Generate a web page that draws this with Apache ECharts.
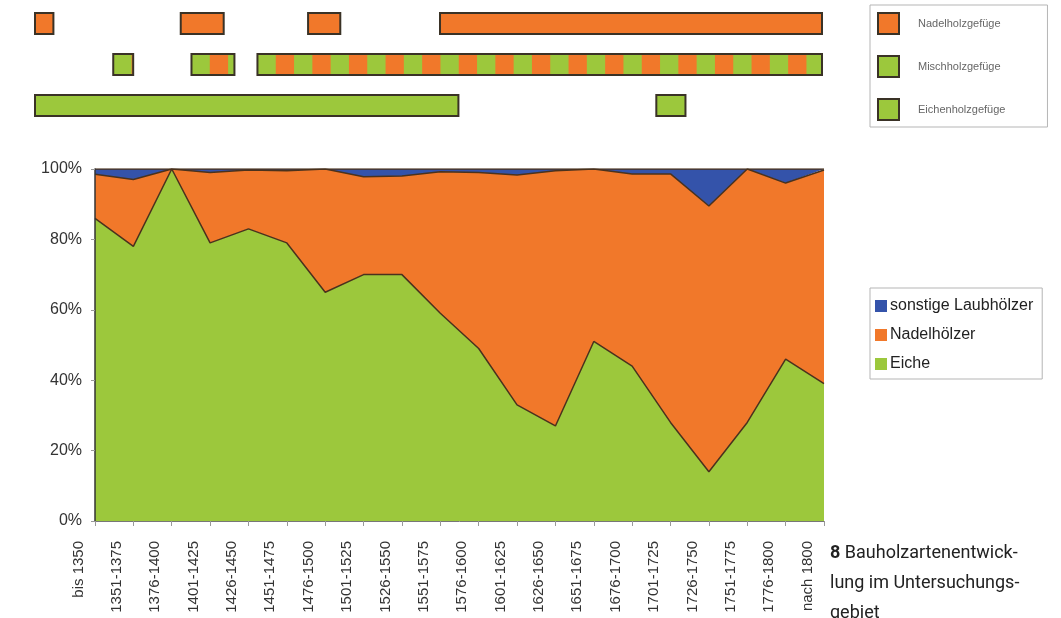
<!DOCTYPE html>
<html>
<head>
<meta charset="utf-8">
<title>Bauholzartenentwicklung</title>
<script src="https://cdn.jsdelivr.net/npm/echarts@6/dist/echarts.min.js"></script>
<style>
  html, body { margin: 0; padding: 0; background: #fff; }
  #chart { width: 1061px; height: 618px; }
</style>
</head>
<body>
<div id="chart"></div>
<script>
// Zeiträume (Kategorieachse)
const periods = ['bis 1350', '1351-1375', '1376-1400', '1401-1425', '1426-1450', '1451-1475',
  '1476-1500', '1501-1525', '1526-1550', '1551-1575', '1576-1600', '1601-1625', '1626-1650',
  '1651-1675', '1676-1700', '1701-1725', '1726-1750', '1751-1775', '1776-1800', 'nach 1800']

// Anteile in Prozent
const eiche = [86, 78, 100, 79, 83, 79, 65, 70, 70, 59, 49, 33, 27, 51, 44, 28, 14, 28, 46, 39]
const nadel = [12.5, 19, 0, 20, 16.7, 20.5, 35, 27.8, 28, 40.2, 50, 65.3, 72.5, 49, 54.6, 70.6, 75.5, 72, 50, 60.7]
const sonstige = [1.5, 3, 0, 1, 0.3, 0.5, 0, 2.2, 2, 0.8, 1, 1.7, 0.5, 0, 1.4, 1.4, 10.5, 0, 4, 0.3]

const yTicks = [0, 20, 40, 60, 80, 100]

// Gefüge-Zeitspannen (Jahre)
const gefuegeRows = ['Eichenholzgefüge', 'Mischholzgefüge', 'Nadelholzgefüge']
const nadelSpans = [[1311, 1323], [1406, 1434], [1489, 1510], [1575, 1824]]
const mischSpans = [[1362, 1375], [1413, 1441], [1456, 1824]]
const eicheSpans = [[1311, 1587], [1716, 1735]]

const GREEN = '#9cc83c'
const ORANGE = '#f1782a'
const BLUE = '#3453aa'
const EDGE = '#4a321d'
const BOX = '#3a3226'

// Balken fuer die Gefuege-Zeile, Mischholz gestreift
const makeSpanRenderer = (striped) => (params, api) => {
  const row = api.value(0)
  const a = api.coord([api.value(1), row])
  const b = api.coord([api.value(2), row])
  const h = 21
  const x = a[0]
  const y = a[1] - h / 2
  const w = b[0] - a[0]
  const children = [{
    type: 'rect',
    shape: { x, y, width: w, height: h },
    style: { fill: api.visual('color') }
  }]
  if (striped) {
    const sw = 18.3
    for (let k = 1; k * sw < w; k += 2) {
      children.push({
        type: 'rect',
        shape: { x: x + k * sw, y, width: Math.min(sw, w - k * sw), height: h },
        style: { fill: ORANGE }
      })
    }
  }
  children.push({
    type: 'rect',
    shape: { x, y, width: w, height: h },
    style: { fill: 'none', stroke: BOX, lineWidth: 2 }
  })
  return { type: 'group', children }
}

const spanData = (spans, rowName) => spans.map(s => [gefuegeRows.indexOf(rowName), s[0], s[1]])

const chart = echarts.init(document.getElementById('chart'))

const areaSeries = (name, data, color) => ({
  name,
  type: 'line',
  stack: 'holz',
  xAxisIndex: 0,
  yAxisIndex: 0,
  data,
  symbol: 'none',
  lineStyle: { color: EDGE, width: 1.5 },
  itemStyle: { color },
  areaStyle: { color, opacity: 1 },
  z: 2
})

const option = {
  animation: false,
  textStyle: { fontFamily: 'Liberation Sans, Arial, sans-serif' },
  grid: [
    { left: 95, top: 169, width: 729, height: 352 },
    { left: 35, top: 3, width: 787, height: 123 }
  ],
  legend: [
    {
      data: ['sonstige Laubhölzer', 'Nadelhölzer', 'Eiche'],
      orient: 'vertical',
      left: 870,
      top: 288,
      padding: [10, 9, 7, 5],
      itemGap: 13,
      itemWidth: 12,
      itemHeight: 12,
      icon: 'rect',
      borderColor: '#b5b5b5',
      borderWidth: 1,
      textStyle: { fontSize: 16, color: '#222', padding: [0, 0, 0, -2] },
      selectedMode: false
    },
    {
      data: gefuegeRows.slice().reverse().map(n => ({
        name: n,
        itemStyle: { borderColor: BOX, borderWidth: 2 }
      })),
      orient: 'vertical',
      left: 870,
      top: 5,
      padding: [7, 42, 6, 7],
      itemGap: 20,
      itemWidth: 21,
      itemHeight: 21,
      icon: 'rect',
      borderColor: '#b5b5b5',
      borderWidth: 1,
      textStyle: { fontSize: 11, color: '#666', padding: [0, 0, 0, 14] },
      selectedMode: false
    }
  ],
  xAxis: [
    {
      type: 'category',
      gridIndex: 0,
      data: periods,
      boundaryGap: false,
      axisLine: { lineStyle: { color: '#777', width: 1 } },
      axisTick: { show: true, length: 5, alignWithLabel: true, lineStyle: { color: '#999' } },
      axisLabel: {
        interval: 0,
        rotate: 90,
        margin: 20,
        fontSize: 15,
        color: '#333',
        verticalAlign: 'bottom',
        padding: [0, 0, 9, 0]
      },
      splitLine: { show: false },
      z: 5
    },
    {
      type: 'value',
      gridIndex: 1,
      min: 1311,
      max: 1824,
      show: false
    }
  ],
  yAxis: [
    {
      type: 'value',
      gridIndex: 0,
      min: yTicks[0],
      max: yTicks[yTicks.length - 1],
      interval: 20,
      axisLine: { show: true, lineStyle: { color: '#333', width: 1.5 } },
      axisTick: { show: true, length: 4, lineStyle: { color: '#999' } },
      axisLabel: { formatter: '{value}%', fontSize: 16, color: '#333', margin: 13 },
      splitLine: { show: false },
      z: 5
    },
    {
      type: 'category',
      gridIndex: 1,
      data: gefuegeRows,
      show: false
    }
  ],
  series: [
    areaSeries('Eiche', eiche, GREEN),
    areaSeries('Nadelhölzer', nadel, ORANGE),
    areaSeries('sonstige Laubhölzer', sonstige, BLUE),
    {
      name: 'Nadelholzgefüge',
      type: 'custom',
      xAxisIndex: 1,
      yAxisIndex: 1,
      itemStyle: { color: ORANGE },
      renderItem: makeSpanRenderer(false),
      encode: { x: [1, 2], y: 0 },
      data: spanData(nadelSpans, 'Nadelholzgefüge')
    },
    {
      name: 'Mischholzgefüge',
      type: 'custom',
      xAxisIndex: 1,
      yAxisIndex: 1,
      itemStyle: { color: GREEN },
      renderItem: makeSpanRenderer(true),
      encode: { x: [1, 2], y: 0 },
      data: spanData(mischSpans, 'Mischholzgefüge')
    },
    {
      name: 'Eichenholzgefüge',
      type: 'custom',
      xAxisIndex: 1,
      yAxisIndex: 1,
      itemStyle: { color: GREEN },
      renderItem: makeSpanRenderer(false),
      encode: { x: [1, 2], y: 0 },
      data: spanData(eicheSpans, 'Eichenholzgefüge')
    }
  ],
  graphic: [
    {
      type: 'text',
      left: 830,
      top: 538,
      style: {
        text: '{b|8} Bauholzartenentwick-\nlung im Untersuchungs-\ngebiet',
        font: '18px Roboto, sans-serif',
        fill: '#222',
        lineHeight: 30,
        rich: {
          b: { fontWeight: 'bold', fontSize: 18, fontFamily: 'Roboto, sans-serif', fill: '#222', lineHeight: 30 }
        }
      }
    }
  ]
}

chart.setOption(option)
</script>
</body>
</html>
